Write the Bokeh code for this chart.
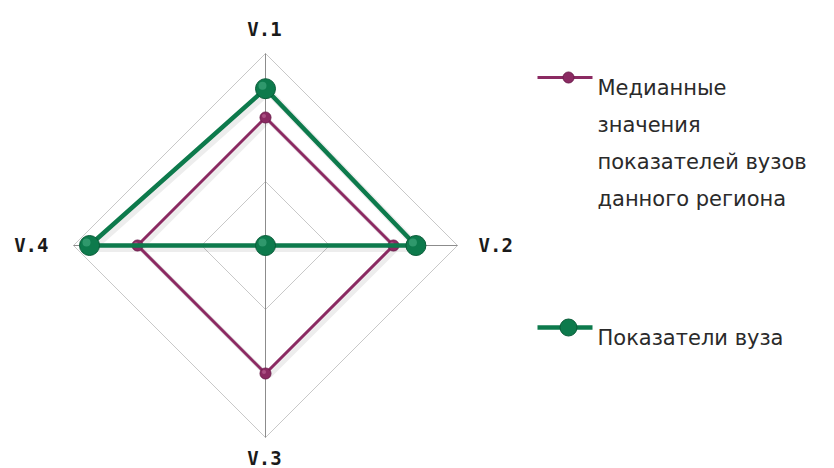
import numpy as np
from bokeh.plotting import figure
from bokeh.models import Range1d
from bokeh.core.properties import value
from bokeh.embed import file_html
from bokeh.resources import INLINE

# ---- data ----
categories = ["V.1", "V.2", "V.3", "V.4"]
median_values = [2.0, 2.0, 2.0, 2.0]
univ_values = [2.45, 2.35, 0.0, 2.75]
ring_levels = [1, 2, 3]
legend_median = ["Медианные", "значения", "показателей вузов", "данного региона"]
legend_univ = ["Показатели вуза"]

PURPLE = "#8b2a62"
GREEN = "#0d7a4c"

W, H = 834, 468
CX, CY = 265, 245        # center in figure pixels (from left, from top)
SCALE = 64.0             # pixels per unit

p = figure(width=W, height=H, output_backend="svg", toolbar_location=None,
           x_range=Range1d(-CX, W - CX), y_range=Range1d(-(H - CY), CY),
           min_border=0, outline_line_color=None)
p.axis.visible = False
p.grid.visible = False
p.background_fill_color = "white"
p.border_fill_color = "white"

angles = np.deg2rad([90, 0, -90, 180])


def polar(vals):
    v = np.asarray(vals, dtype=float) * SCALE
    return list(v * np.cos(angles)), list(v * np.sin(angles))


# grid rings
for lv in ring_levels:
    xs, ys = polar([lv] * 4)
    p.line(xs + [xs[0]], ys + [ys[0]], line_color="#c8c8c8", line_width=1)
# spokes
rmax = max(ring_levels)
xs, ys = polar([rmax] * 4)
for x, y in zip(xs, ys):
    p.line([0, x], [0, y], line_color="#8c8c8c", line_width=1)

# shadows
for vals, w in ((median_values, 5), (univ_values, 7)):
    xs, ys = polar(vals)
    p.line([x + 3 for x in xs + [xs[0]]], [y - 3 for y in ys + [ys[0]]],
           line_color="#000000", line_alpha=0.07, line_width=w)

# median series
xs, ys = polar(median_values)
p.line(xs + [xs[0]], ys + [ys[0]], line_color=PURPLE, line_width=3)
p.scatter(xs, ys, size=11, fill_color=PURPLE, line_color="#6e1f4d", line_width=1)
p.scatter([x - 1.5 for x in xs], [y + 1.5 for y in ys], size=4, fill_color="#b35a8c",
          line_color=None, fill_alpha=0.8)

# university series
xs, ys = polar(univ_values)
p.line(xs + [xs[0]], ys + [ys[0]], line_color=GREEN, line_width=4.5)
p.scatter(xs, ys, size=20, fill_color=GREEN, line_color="#0a5c39", line_width=1)
p.scatter([x - 3 for x in xs], [y + 3 for y in ys], size=8, fill_color="#3fa57a",
          line_color=None, fill_alpha=0.7)

# category labels
lab_font = value("DejaVu Sans Mono")
lx = [-1, 213, -1, -217]
ly = [217, 1, -212, 1]
aligns = ["center", "left", "center", "right"]
for c, x, y, a in zip(categories, lx, ly, aligns):
    p.text([x], [y], text=[c], text_font=lab_font, text_font_style="bold",
           text_font_size="19px", text_align=a, text_baseline="middle",
           text_color="#1a1a1a")

# legend
leg_font = value("DejaVu Sans")
p.line([272, 327], [168, 168], line_color=PURPLE, line_width=3)
p.scatter([303], [168], size=11, fill_color=PURPLE, line_color="#6e1f4d")
p.text([332] * len(legend_median), [158 - 37 * i for i in range(len(legend_median))],
       text=legend_median, text_font=leg_font, text_font_size="21px",
       text_baseline="alphabetic", text_align="left", text_color="#2a2a2a")

p.line([272, 327], [-82, -82], line_color=GREEN, line_width=4.5)
p.scatter([303], [-82], size=17, fill_color=GREEN, line_color="#0a5c39")
p.text([332], [-92], text=legend_univ, text_font=leg_font, text_font_size="21px",
       text_baseline="alphabetic", text_align="left", text_color="#2a2a2a")

open("out.html", "w").write(file_html(p, INLINE))
